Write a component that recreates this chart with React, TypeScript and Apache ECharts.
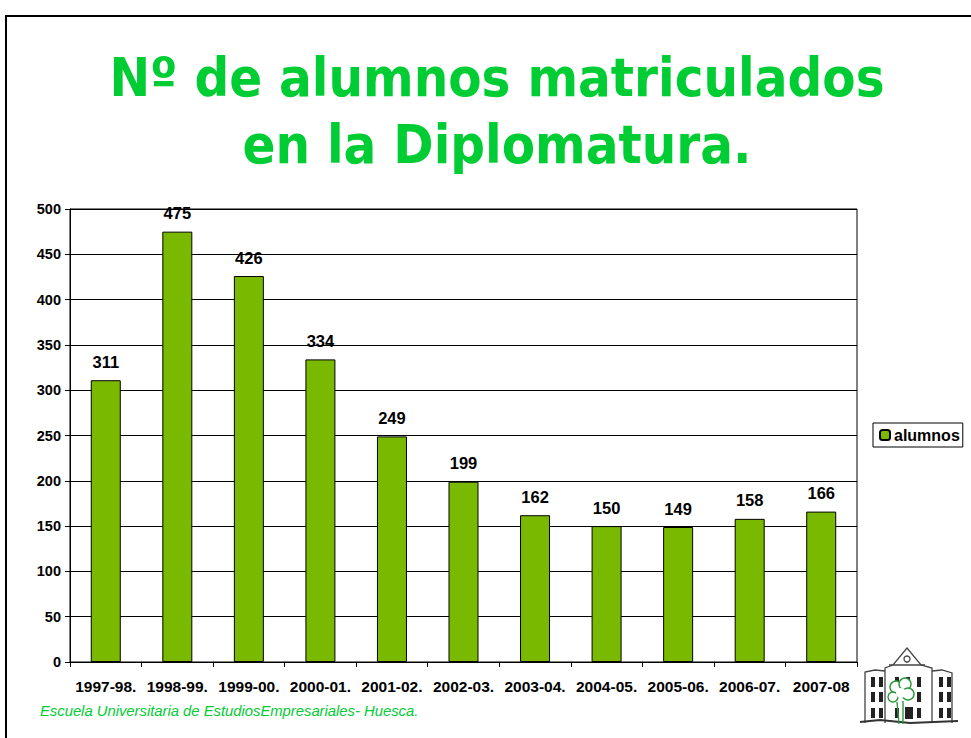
import React, { useEffect, useRef } from "react";
import * as echarts from "echarts";

const categories = ["1997-98.", "1998-99.", "1999-00.", "2000-01.", "2001-02.", "2002-03.", "2003-04.", "2004-05.", "2005-06.", "2006-07.", "2007-08"];
const alumnos = [311, 475, 426, 334, 249, 199, 162, 150, 149, 158, 166];
const yTicks = { min: 0, max: 500, interval: 50 };
const titleLines = ["Nº de alumnos matriculados", "en la Diplomatura."];
const footer = "Escuela Universitaria de EstudiosEmpresariales- Huesca.";
const seriesName = "alumnos";

const BAR = "#79B900";
const GREEN = "#00CC33";
const TREE = "#2a9a3a";

function windows(): any[] {
  const cols = [871, 879, 895, 906, 917, 939, 947];
  const rows = [677, 692, 708];
  const out: any[] = [];
  cols.forEach((x) =>
    rows.forEach((y) => {
      if (x === 906 && y === 708) return;
      if ((x === 895 || x === 906) && y === 692) return;
      out.push({ type: "rect", shape: { x, y, width: 4, height: 10 }, style: { fill: "#222" } });
    })
  );
  return out;
}

export default function App() {
  const ref = useRef<HTMLDivElement>(null);
  useEffect(() => {
    document.body.style.margin = "0";
    const chart = echarts.init(ref.current!, null, { renderer: "svg" });
    const lineStyle = { stroke: "#444", lineWidth: 1.3, fill: "none" };
    const treeStyle = { stroke: TREE, lineWidth: 1.4, fill: "#fff" };
    chart.setOption({
      animation: false,
      backgroundColor: "#fff",
      title: {
        text: titleLines.join("\n"),
        left: 497,
        top: 44,
        padding: 0,
        textAlign: "center",
        textStyle: {
          color: GREEN,
          fontSize: 54,
          fontWeight: "bold",
          fontFamily: "DejaVu Sans Condensed, DejaVu Sans",
          lineHeight: 67,
        },
      },
      legend: {
        data: [seriesName],
        left: 873,
        top: 423,
        orient: "vertical",
        itemWidth: 10,
        itemHeight: 10,
        itemGap: 4,
        padding: [4, 3, 4, 6],
        borderColor: "#000",
        borderWidth: 1,
        textStyle: { fontSize: 16, fontWeight: "bold", color: "#000", fontFamily: "Liberation Sans, Arial", padding: [0, 0, 0, -1] },
      },
      grid: { left: 70, top: 209, width: 787, height: 453, show: true, borderColor: "#000", borderWidth: 1 },
      xAxis: {
        type: "category",
        data: categories,
        axisLine: { lineStyle: { color: "#000" } },
        axisTick: { show: true, alignWithLabel: false, length: 5, lineStyle: { color: "#000" } },
        axisLabel: { color: "#000", fontWeight: "bold", fontSize: 15.5, fontFamily: "Liberation Sans, Arial", margin: 16, interval: 0 },
      },
      yAxis: {
        type: "value",
        min: yTicks.min,
        max: yTicks.max,
        interval: yTicks.interval,
        axisLine: { show: true, lineStyle: { color: "#000" } },
        axisTick: { show: true, length: 5, lineStyle: { color: "#000" } },
        splitLine: { lineStyle: { color: "#000", width: 1 } },
        axisLabel: { color: "#000", fontWeight: "bold", fontSize: 14.5, fontFamily: "Liberation Sans, Arial", margin: 9 },
      },
      series: [
        {
          name: seriesName,
          type: "bar",
          data: alumnos,
          barWidth: 30,
          itemStyle: { color: BAR, borderColor: "#000", borderWidth: 1 },
          label: { show: true, position: "top", distance: 10, color: "#000", fontWeight: "bold", fontSize: 16.5, fontFamily: "Liberation Sans, Arial" },
        },
      ],
      graphic: [
        { type: "line", shape: { x1: 5, y1: 16, x2: 971, y2: 16 }, style: { stroke: "#000", lineWidth: 2 } },
        { type: "line", shape: { x1: 6, y1: 16, x2: 6, y2: 738 }, style: { stroke: "#000", lineWidth: 2 } },
        {
          type: "text",
          left: 40,
          top: 703,
          style: { text: footer, fill: GREEN, fontSize: 14.8, fontStyle: "italic", fontFamily: "Liberation Sans Narrow, Liberation Sans, Arial" },
        },
        // building logo
        { type: "polyline", shape: { points: [[865, 723], [865, 672], [875, 670], [885, 671]] }, style: lineStyle },
        { type: "polyline", shape: { points: [[885, 723], [885, 668], [893, 665], [907, 648], [921, 665], [932, 668], [932, 723]] }, style: lineStyle },
        { type: "polyline", shape: { points: [[932, 671], [942, 670], [952, 673], [952, 723]] }, style: lineStyle },
        { type: "polyline", shape: { points: [[889, 665], [925, 665]] }, style: lineStyle },
        { type: "circle", shape: { cx: 907, cy: 659, r: 3 }, style: lineStyle },
        { type: "polyline", shape: { points: [[860, 722], [880, 720], [910, 723], [958, 721]] }, style: { stroke: "#333", lineWidth: 1.8, fill: "none" } },
        { type: "rect", shape: { x: 905, y: 707, width: 8, height: 12 }, style: { fill: "#222" } },
        ...windows(),
        { type: "circle", shape: { cx: 896, cy: 687, r: 6 }, style: treeStyle },
        { type: "circle", shape: { cx: 905, cy: 684, r: 6 }, style: treeStyle },
        { type: "circle", shape: { cx: 908, cy: 694, r: 6 }, style: treeStyle },
        { type: "circle", shape: { cx: 893, cy: 697, r: 5 }, style: treeStyle },
        { type: "circle", shape: { cx: 901, cy: 693, r: 5 }, style: { stroke: "none", fill: "#fff" } },
        { type: "polyline", shape: { points: [[897, 702], [899, 724]] }, style: { stroke: TREE, lineWidth: 1.4 } },
        { type: "polyline", shape: { points: [[903, 701], [903, 724]] }, style: { stroke: TREE, lineWidth: 1.4 } },
      ],
    });
    return () => chart.dispose();
  }, []);
  return <div ref={ref} style={{ width: 971, height: 738 }} />;
}
